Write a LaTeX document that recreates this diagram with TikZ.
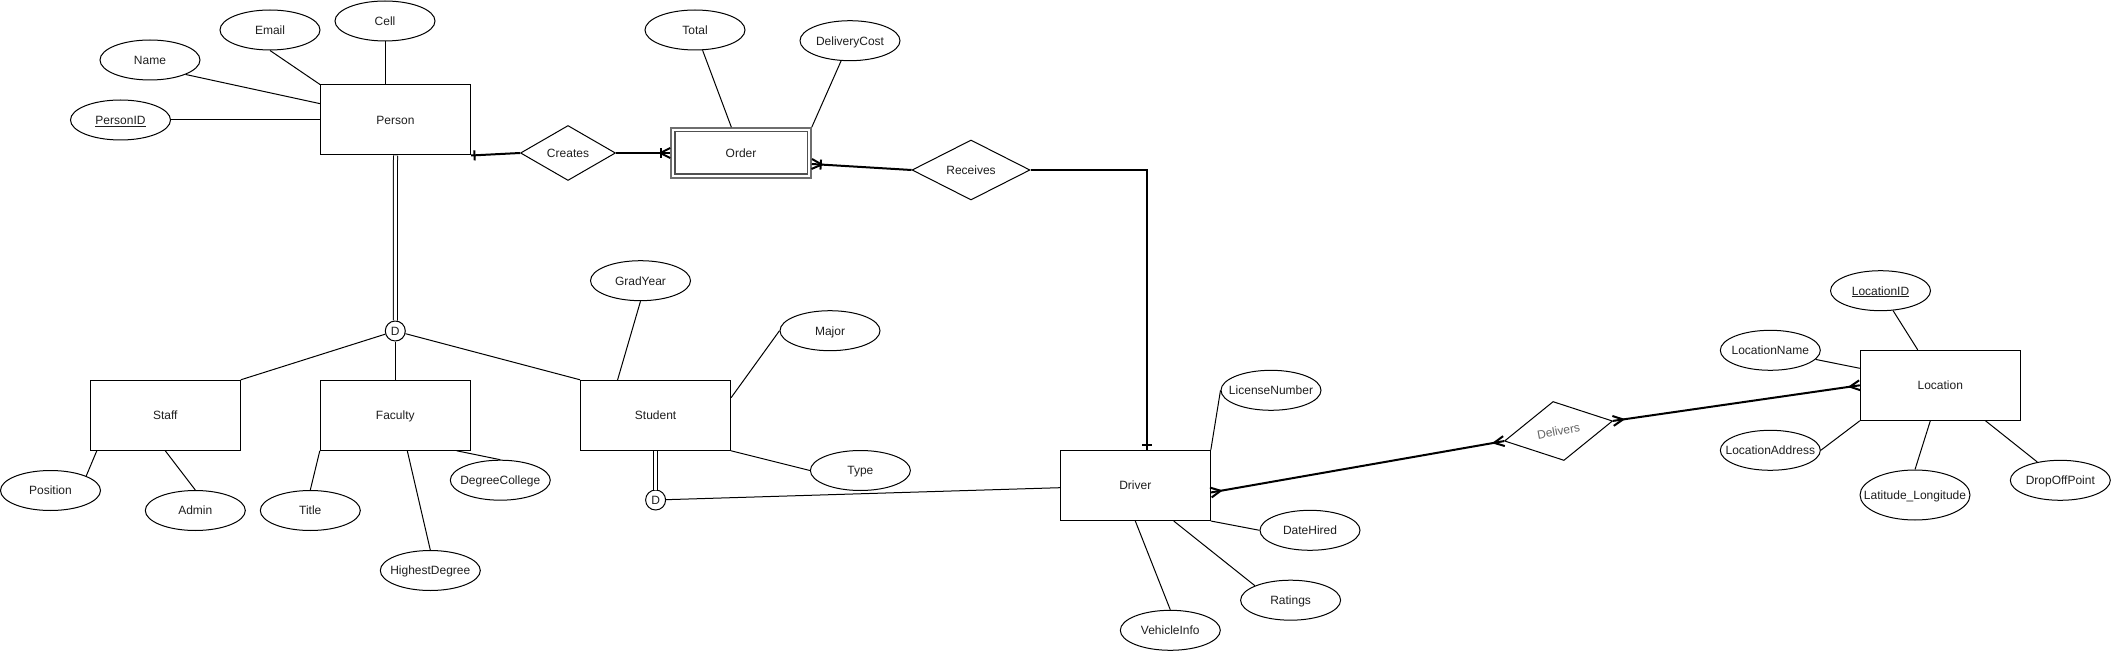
\documentclass[tikz,border=0pt]{standalone}
\usepackage{fontspec}
\setmainfont{Liberation Sans}
\usetikzlibrary{shapes.geometric,calc}
\definecolor{txt}{RGB}{30,30,30}
\definecolor{delgray}{RGB}{100,100,100}
\definecolor{ordout}{RGB}{110,110,110}
\definecolor{ordin}{RGB}{80,80,80}
\newcommand\zw[1]{\makebox[0pt]{#1}}
\newcommand\ercrow[2]{\draw[line width=2pt] ($(#1)!5pt!90:(#2)$) -- ($(#1)!10pt!(#2)$) -- ($(#1)!5pt!-90:(#2)$);}
\newcommand\erbar[3]{\coordinate (erb) at ($(#1)!#3pt!(#2)$); \draw[line width=2pt] ($(erb)!5pt!90:(#2)$) -- ($(erb)!5pt!-90:(#2)$);}
\begin{document}
\begin{tikzpicture}[x=1pt,y=-1pt,
 every node/.style={font=\fontsize{12}{14}\selectfont, text=txt, text height=9.5pt, text depth=0.8pt},
 entity/.style={draw, rectangle, minimum width=150pt, minimum height=70pt, inner sep=0pt, line width=1pt},
 attr/.style={draw, ellipse, minimum width=100pt, minimum height=40pt, inner sep=0pt, line width=1pt},
 rel/.style={draw, diamond, inner sep=0pt, line width=1pt},
 disj/.style={draw, circle, minimum size=20pt, inner sep=0pt, line width=1pt, text height=8.6pt, text depth=0pt},
 link/.style={line width=1pt},
 erline/.style={line width=2pt},
 dbl/.style={line width=1pt, double, double distance=3pt}]
\useasboundingbox (0,0) rectangle (2111,652);

% Person and attributes
\node[entity] (person) at (395.5,120) {Person};
\node[attr] (name) at (150,60) {\zw{Name}};
\node[attr] (email) at (270,30) {\zw{Email}};
\node[attr] (cell) at (385,21) {\zw{Cell}};
\node[attr] (personid) at (120.5,120) {\zw{\underline{PersonID}}};
\node[rel, minimum width=95pt, minimum height=55pt] (creates) at (568,153) {Creates};

% Order
\node[draw=ordout, line width=1.5pt, minimum width=140pt, minimum height=50pt, inner sep=0pt] (order) at (741,153) {Order};
\draw[draw=ordin, line width=1.5pt] ($(order.north west)+(4.5,4.5)$) rectangle ($(order.south east)+(-4.5,-4.5)$);
\node[attr] (total) at (695,30) {\zw{Total}};
\node[attr] (dcost) at (850,40.7) {\zw{DeliveryCost}};
\node[rel, minimum width=118pt, minimum height=60pt] (receives) at (971,170) {Receives};

% Specialisation
\node[disj] (d1) at (395.3,331) {D};
\node[entity] (staff) at (165.3,415.3) {Staff};
\node[entity] (faculty) at (395.3,415.3) {Faculty};
\node[entity] (student) at (655.6,415.3) {Student};
\node[attr] (position) at (50.5,490.5) {\zw{Position}};
\node[attr] (admin) at (195.3,510.5) {\zw{Admin}};
\node[attr] (title) at (310.3,510.5) {\zw{Title}};
\node[attr] (hdeg) at (430.3,570.5) {\zw{HighestDegree}};
\node[attr] (dcol) at (500.3,480.2) {\zw{DegreeCollege}};
\node[attr] (grad) at (640.5,280.7) {\zw{GradYear}};
\node[attr] (major) at (830,330.7) {\zw{Major}};
\node[attr] (type) at (860.4,470.5) {\zw{Type}};
\node[disj] (d2) at (655.6,500) {D};

% Driver
\node[entity] (driver) at (1135.3,485.5) {Driver};
\node[attr] (lic) at (1271,390.3) {\zw{LicenseNumber}};
\node[attr] (hired) at (1310,530.3) {\zw{DateHired}};
\node[attr] (ratings) at (1290.6,600.2) {\zw{Ratings}};
\node[attr] (vehicle) at (1170.3,630.3) {\zw{VehicleInfo}};
\node[rel, minimum width=110pt, minimum height=60pt, rotate=10.5, text=delgray] (delivers) at (1558.5,431) {Delivers};

% Location
\node[entity, minimum width=160pt] (location) at (1940.3,385.3) {Location};
\node[attr] (locid) at (1880.5,290.7) {\zw{\underline{LocationID}}};
\node[attr] (locname) at (1770.3,350.3) {\zw{LocationName}};
\node[attr] (locaddr) at (1770.3,450.3) {\zw{LocationAddress}};
\node[attr, minimum width=110pt, minimum height=50pt] (latlon) at (1915,495) {\zw{Latitude\_Longitude}};
\node[attr] (dropoff) at (2060.3,480.3) {\zw{DropOffPoint}};

% attribute links
\draw[link] (name.south east) -- (person);
\draw[link] (email.south) -- (person.north west);
\draw[link] (cell.south) -- (cell.south |- person.north);
\draw[link] (personid) -- (person);
\draw[link] (total) -- (order);
\draw[link] (dcost) -- (order.north east);
\draw[dbl] (person.south) -- (d1.north);
\draw[link] (d1) -- (staff.north east);
\draw[link] (d1) -- (faculty.north);
\draw[link] (d1) -- (student.north west);
\coordinate (staffpos) at ($(staff.south west)+(7,0)$);
\draw[link] (position.north east) -- (staffpos);
\draw[link] (staff.south) -- (admin.north);
\draw[link] (faculty.south west) -- (title.north);
\coordinate (fachd) at ($(faculty.south)+(12,0)$);
\draw[link] (fachd) -- (hdeg.north);
\coordinate (facdc) at ($(faculty.south east)+(-14,0)$);
\draw[link] (facdc) -- (dcol.north);
\coordinate (stugy) at ($(student.north)+(-38,0)$);
\draw[link] (grad.south) -- (stugy);
\coordinate (stumj) at ($(student.east)+(0,-17.6)$);
\draw[link] (major.west) -- (stumj);
\draw[link] (student.south east) -- (type.west);
\draw[dbl] (student.south) -- (d2.north);
\coordinate (drvd) at ($(driver.west)+(0,2.2)$);
\draw[link] (d2) -- (drvd);
\draw[link] (lic.west) -- (driver.north east);
\draw[link] (driver.south east) -- (hired.west);
\coordinate (drvra) at ($(driver.south)+(38.4,0)$);
\draw[link] (drvra) -- (ratings.north west);
\draw[link] (driver.south) -- (vehicle.north);
\coordinate (loctop) at ($(location.north)+(-22.6,0)$);
\draw[link] (locid) -- (loctop);
\coordinate (locleft) at ($(location.west)+(0,-17)$);
\draw[link] (locname) -- (locleft);
\draw[link] (locaddr.east) -- (location.south west);
\coordinate (locbot) at ($(location.south)+(-10,0)$);
\draw[link] (locbot) -- (latlon.north);
\coordinate (locbr) at ($(location.south east)+(-35.3,0)$);
\draw[link] (dropoff) -- (locbr);

% relationship links
\draw[erline] (person.south east) -- (creates.west);
\erbar{person.south east}{creates.west}{3.5}
\draw[erline] (creates.east) -- (order.west);
\ercrow{order.west}{creates.east}
\erbar{order.west}{creates.east}{9}
\coordinate (ordR) at ($(order.east)+(0,11)$);
\draw[erline] (ordR) -- (receives.west);
\ercrow{ordR}{receives.west}
\erbar{ordR}{receives.west}{9}
\coordinate (drvT) at ($(driver.north)+(11.7,0)$);
\coordinate (drvTup) at ($(drvT)+(0,-50)$);
\draw[erline] (receives.east) -| (drvT);
\erbar{drvT}{drvTup}{5}
\coordinate (drvR) at ($(driver.east)+(0,7)$);
\draw[erline] (drvR) -- (delivers.west);
\ercrow{drvR}{delivers.west}
\ercrow{delivers.west}{drvR}
\draw[erline] (delivers.east) -- (location.west);
\ercrow{delivers.east}{location.west}
\ercrow{location.west}{delivers.east}
\end{tikzpicture}
\end{document}
